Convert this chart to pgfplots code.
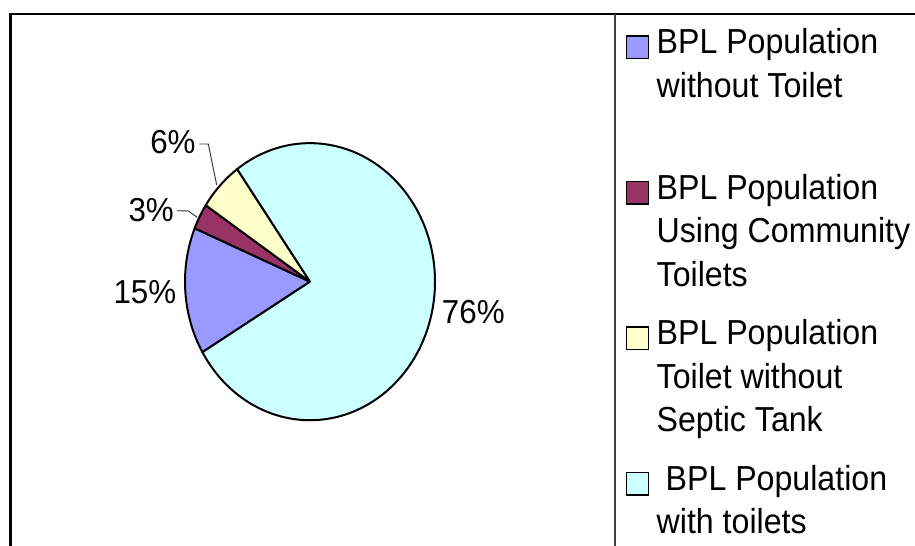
\documentclass[border=0pt]{standalone}
\usepackage{fontspec}
\setmainfont{Liberation Sans}
\usepackage{graphicx}
\usepackage{pgfplots}
\usepackage{pgfplotstable}
\pgfplotsset{compat=1.18}
\definecolor{cBlue}{HTML}{9999FF}
\definecolor{cMaroon}{HTML}{993366}
\definecolor{cYellow}{HTML}{FFFFCC}
\definecolor{cCyan}{HTML}{CCFFFF}

% share of BPL population (percent), clockwise from the first slice
\pgfplotstableread{
share colour
14.8 cBlue
3.0 cMaroon
5.8 cYellow
76.4 cCyan
}\piedata

\newcommand\lbl[1]{\scalebox{1}[1.06]{\fontsize{23.5}{27}\selectfont #1}}
\newcommand\legtext[1]{\scalebox{1}[1.08]{\parbox[t]{300pt}{\raggedright\fontsize{24.1}{30.1}\selectfont\strut #1\strut}}}
\def\startang{210.6}

\begin{document}
\begin{tikzpicture}
\begin{axis}[
  name=ax,
  x=0.75pt, y=0.75pt,
  xmin=0, xmax=915, ymin=0, ymax=546,
  hide axis, clip=false,
  legend image code/.code={\draw[#1, line width=1.1pt] (0pt,-3.4pt) rectangle (16.2pt,13.5pt);},
  legend style={draw=none, fill=none, inner sep=0pt, outer sep=0pt,
    at={(axis cs:626,522.35)}, anchor=north west,
    row sep=11.6pt, column sep=5.7pt,
    cells={anchor=base west},
    nodes={inner sep=0pt, outer sep=0pt, text depth=, anchor=base west}},
]
\pgfplotsforeachungrouped \i in {0,1,2,3}{%
  \pgfplotstablegetelem{\i}{share}\of\piedata
  \pgfmathsetmacro\endang{\startang-3.6*\pgfplotsretval}%
  \pgfplotstablegetelem{\i}{colour}\of\piedata
  \let\slicecol\pgfplotsretval
  \edef\doslice{\noexpand\filldraw[fill=\slicecol, draw=black, line width=1.5pt, line join=round]
     (axis cs:310,264.3) -- ++(\startang:93.75pt and 103.9pt)
     arc[start angle=\startang, end angle=\endang, x radius=93.75pt, y radius=103.9pt] -- cycle;}%
  \doslice
  \global\let\startang\endang
}

% frame of the chart area
\draw[line width=2pt, line cap=rect] (axis cs:10.7,-10) -- (axis cs:10.7,532) -- (axis cs:930,532);
\draw[line width=1.2pt, black!75] (axis cs:615,532) -- (axis cs:615,-10);

% leader lines
\draw[line width=0.7pt, black!80] (axis cs:199.3,402) -- (axis cs:208.3,402) -- (axis cs:216.7,361);
\draw[line width=0.7pt, black!80] (axis cs:177.3,335.3) -- (axis cs:188.3,335) -- (axis cs:197.3,328.7);

% data labels
\node[anchor=base west, inner sep=0pt] at (axis cs:441.7,222.7) {\lbl{76\%}};
\node[anchor=base west, inner sep=0pt] at (axis cs:113.3,242.7) {\lbl{15\%}};
\node[anchor=base west, inner sep=0pt] at (axis cs:128.3,324.3) {\lbl{3\%}};
\node[anchor=base west, inner sep=0pt] at (axis cs:150,392.7) {\lbl{6\%}};

\addlegendimage{fill=cBlue, draw=black}
\addlegendentry{\legtext{BPL Population\\without Toilet\\}}
\addlegendimage{fill=cMaroon, draw=black}
\addlegendentry{\legtext{BPL Population\\Using Community\\Toilets}}
\addlegendimage{fill=cYellow, draw=black}
\addlegendentry{\legtext{BPL Population\\Toilet without\\Septic Tank}}
\addlegendimage{fill=cCyan, draw=black}
\addlegendentry{\legtext{\hspace*{0.28em}BPL Population\\with toilets}}
\end{axis}
\pgfresetboundingbox
\path (ax.south west) rectangle (ax.north east);
\end{tikzpicture}
\end{document}
